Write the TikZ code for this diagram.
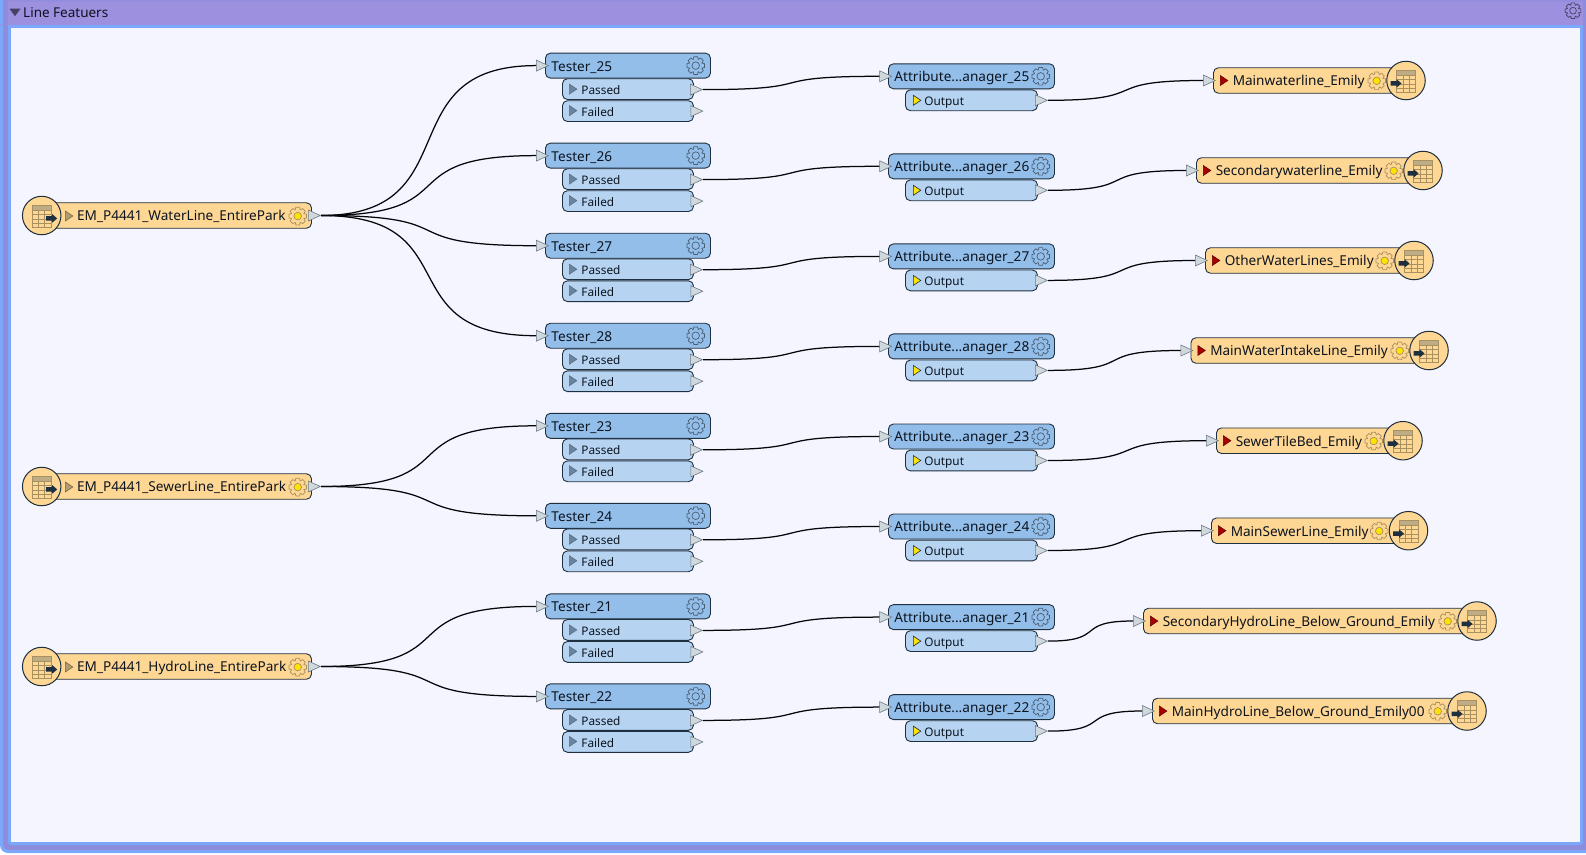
\documentclass[tikz,border=0pt]{standalone}
\usepackage{fontspec}
\setmainfont{Noto Sans}
\usetikzlibrary{calc,shapes.geometric}
\definecolor{frameblue}{HTML}{7BA8FA}
\definecolor{framemix}{HTML}{8E8CDC}
\definecolor{titlebar}{HTML}{9D90DF}
\definecolor{canvas}{HTML}{F5F5FF}
\definecolor{hdrblue}{HTML}{93BEE9}
\definecolor{portblue}{HTML}{B6D4F1}
\definecolor{fmeorange}{HTML}{FFD794}
\definecolor{edge}{HTML}{1E2F40}
\definecolor{portgrey}{HTML}{CFD8DC}
\definecolor{ink}{HTML}{0C1420}
\definecolor{tabletan}{HTML}{A8905F}
\tikzset{
  x=1pt,y=-1pt,
  boxbase/.style={rectangle,rounded corners=5pt,draw=edge,line width=0.9pt,anchor=west,inner ysep=0pt,
    text=ink,align=left,text height=12.5pt,text depth=1.6pt},
  hdrbox/.style={boxbase,fill=hdrblue,minimum height=25pt,font=\fontsize{13.6}{16}\selectfont,inner xsep=6pt},
  portbox/.style={boxbase,fill=portblue,minimum height=20.8pt,font=\fontsize{11.8}{15}\selectfont,inner xsep=19pt,
     text height=11.5pt,text depth=1pt},
  featbox/.style={boxbase,fill=fmeorange,minimum height=25.5pt,font=\fontsize{13.6}{16}\selectfont},
  porttri/.style={isosceles triangle,isosceles triangle apex angle=50,isosceles triangle stretches,inner sep=0pt,
     minimum width=11pt,minimum height=12pt,anchor=west,fill=portgrey,draw=edge!65,line width=0.6pt},
  marktri/.style={isosceles triangle,isosceles triangle stretches,inner sep=0pt,
     minimum width=10pt,minimum height=7.5pt,anchor=west,line width=0.6pt},
  passtri/.style={marktri,fill=hdrblue!70!black,draw=edge!70},
  outtri/.style={marktri,fill=yellow!85!orange,draw=edge},
  readtri/.style={marktri,fill=tabletan!90,draw=tabletan!70!black},
  writetri/.style={marktri,fill=red!65!black,draw=red!40!black},
  fmt/.style={circle,draw=edge,line width=1pt,fill=fmeorange,minimum size=38.5pt,inner sep=0pt},
  wire/.style={draw=black!90!edge,line width=1.25pt},
}
\newcommand{\gearat}[5]{% x, y, radius, body colour, hub colour
  \begin{scope}[shift={(#1,#2)}]
    \draw[draw=#4,line width=0.7pt]
      (-12:#3) \foreach \a in {0,45,...,315}{
         -- ({\a-12}:#3) -- ({\a+12}:#3) -- ({\a+22}:{#3*0.74}) -- ({\a+45-22}:{#3*0.74})
      } -- cycle;
    \draw[draw=#4,line width=0.7pt,fill=#5] (0,0) circle ({#3*0.42});
  \end{scope}}
\newcommand{\tableicon}[3]{% centre x, y, arrow direction offset
  \begin{scope}[shift={(#1,#2)}]
    \fill[tabletan!75] (-9.5,-10.5) rectangle (9.5,-5.5);
    \draw[tabletan,line width=0.9pt] (-9.5,-10.5) rectangle (9.5,11.5)
      (-9.5,-5.5) -- (9.5,-5.5) (-9.5,-1) -- (9.5,-1) (-9.5,3.5) -- (9.5,3.5) (-9.5,7.5) -- (9.5,7.5)
      (-3,-5.5) -- (-3,11.5) (3.2,-5.5) -- (3.2,11.5);
    \fill[edge] ({#3-5.5},0.6) -- ({#3+0.5},0.6) -- ({#3+0.5},-1.4) -- ({#3+5.5},2.9) -- ({#3+0.5},7.2) -- ({#3+0.5},5.2) -- ({#3-5.5},5.2) -- cycle;
  \end{scope}}
\newcommand{\wire}[2]{\draw[wire] let \p1=(#1),\p2=(#2) in (\p1) .. controls ({\x1+0.7*(\x2-\x1)},\y1) and ({\x2-0.7*(\x2-\x1)},\y2) .. (\p2);}
\begin{document}
\begin{tikzpicture}
\useasboundingbox (0,0) rectangle (1586,854);
\fill[white] (0,0) rectangle (1586,854);
% frame
\fill[frameblue,rounded corners=8pt] (0,-8) rectangle (1594,853);
\fill[framemix,rounded corners=6pt] (3,-8) rectangle (1594,850);
\fill[frameblue,rounded corners=3pt] (8,10) rectangle (1583,845);
\node[rectangle,fill=canvas,inner sep=0pt,minimum width=1569pt,minimum height=814pt,anchor=north west] (canvasarea) at (11,28) {};
\fill[titlebar] (0,0) rectangle (1586,24.5);
\fill[frameblue] (8,24.5) rectangle (1583,28);
\fill[framemix,opacity=.55] (0,0) rectangle (1586,1.5);
\fill[frameblue] (0,0) rectangle (3,24);
\fill[framemix] (3,0) rectangle (7.5,24.5);
\fill[titlebar] (7.5,1.5) rectangle (1583,24.5);
\fill[framemix] (1583,0) rectangle (1586,850);
\node[isosceles triangle,shape border rotate=-90,isosceles triangle stretches,inner sep=0pt,minimum width=11pt,minimum height=7.5pt,fill=black!55!titlebar,anchor=center] (collapse) at (15,11.5) {};
\node[anchor=west,inner sep=0pt,text=ink,font=\fontsize{13.5}{16}\selectfont] (title) at (23,12.5) {Line Featuers};
\gearat{1573}{10.7}{8}{black!55!titlebar}{titlebar}

% testers + attribute managers
\foreach \k/\yy in {25/65.6,26/155.6,27/245.7,28/335.7,23/425.8,24/515.8,21/606.4,22/696.4}{
  \node[hdrbox,minimum width=165pt,text width=153pt] (tester\k) at (545,\yy) {Tester\_\k};
  \node[portbox,minimum width=131pt,text width=93pt] (pass\k) at (562,\yy+23.5) {Passed};
  \node[portbox,minimum width=131pt,text width=93pt] (fail\k) at (562,\yy+45.5) {Failed};
  \node[porttri] (testerin\k) at (536,\yy) {};
  \node[porttri] (passout\k) at (690,\yy+24) {};
  \node[porttri] (failout\k) at (690.5,\yy+45.5) {};
  \node[passtri] (passmk\k) at (569,\yy+23.5) {};
  \node[passtri] (failmk\k) at (569,\yy+45) {};
  \gearat{695.7}{\yy}{9}{black!50!hdrblue}{hdrblue}
  \node[hdrbox,minimum width=166pt,text width=154pt] (attr\k) at (888,\yy+10.7) {Attribute...anager\_\k};
  \node[portbox,minimum width=132pt,text width=94pt] (out\k) at (905,\yy+34.7) {Output};
  \node[porttri] (attrin\k) at (879.3,\yy+10.7) {};
  \node[porttri] (attrout\k) at (1035,\yy+34.7) {};
  \node[outtri] (outmk\k) at (913,\yy+34.7) {};
  \gearat{1040.7}{\yy+10.7}{9}{black!50!hdrblue}{hdrblue}
}

% readers
\foreach \id/\yy/\lbl in {water/215.5/EM\_P4441\_WaterLine\_EntirePark,sewer/486.5/EM\_P4441\_SewerLine\_EntirePark,hydro/666.5/EM\_P4441\_HydroLine\_EntirePark}{
  \node[featbox,minimum width=271pt,text width=271pt,inner sep=0pt] (rd\id) at (40,\yy) {\hspace*{36.7pt}\rlap{\lbl}};
  \node[readtri] (rdmk\id) at (65,\yy+0.5) {};
  \gearat{297.7}{\yy+0.6}{9}{tabletan}{yellow!85!orange}
  \node[porttri] (rdout\id) at (308,\yy) {};
  \node[fmt] (rdfmt\id) at (41.7,\yy) {};
  \tableicon{41.7}{\yy}{10}
}

% writers
\foreach \k/\wl/\wc/\wyy/\lbl in {
  25/1213/1406/80.5/Mainwaterline\_Emily,
  26/1196/1423/170.5/Secondarywaterline\_Emily,
  27/1205/1414/260.5/OtherWaterLines\_Emily,
  28/1190.5/1429/350.5/MainWaterIntakeLine\_Emily,
  23/1216/1403/440.7/SewerTileBed\_Emily,
  24/1211/1408.5/530.7/MainSewerLine\_Emily,
  21/1143/1477/621/SecondaryHydroLine\_Below\_Ground\_Emily,
  22/1152/1467/711/MainHydroLine\_Below\_Ground\_Emily00}{
  \pgfmathsetmacro{\boxw}{\wc-\wl}
  \node[featbox,minimum width=\boxw pt,text width=\boxw pt,inner sep=0pt] (wr\k) at (\wl,\wyy) {\hspace*{19.3pt}\rlap{\lbl}};
  \node[writetri] (wrmk\k) at (\wl+7,\wyy) {};
  \gearat{\wc-29.3}{\wyy+0.3}{9}{tabletan}{yellow!85!orange}
  \node[porttri] (wrin\k) at (\wl-10,\wyy) {};
  \node[fmt] (wrfmt\k) at (\wc,\wyy) {};
  \tableicon{\wc}{\wyy}{-10}
}

% connectors
\foreach \k in {25,26,27,28}{\wire{rdoutwater.east}{testerin\k.west}}
\foreach \k in {23,24}{\wire{rdoutsewer.east}{testerin\k.west}}
\foreach \k in {21,22}{\wire{rdouthydro.east}{testerin\k.west}}
\foreach \k in {25,26,27,28,23,24,21,22}{
  \wire{passout\k.east}{attrin\k.west}
  \wire{attrout\k.east}{wrin\k.west}
}
\end{tikzpicture}
\end{document}
